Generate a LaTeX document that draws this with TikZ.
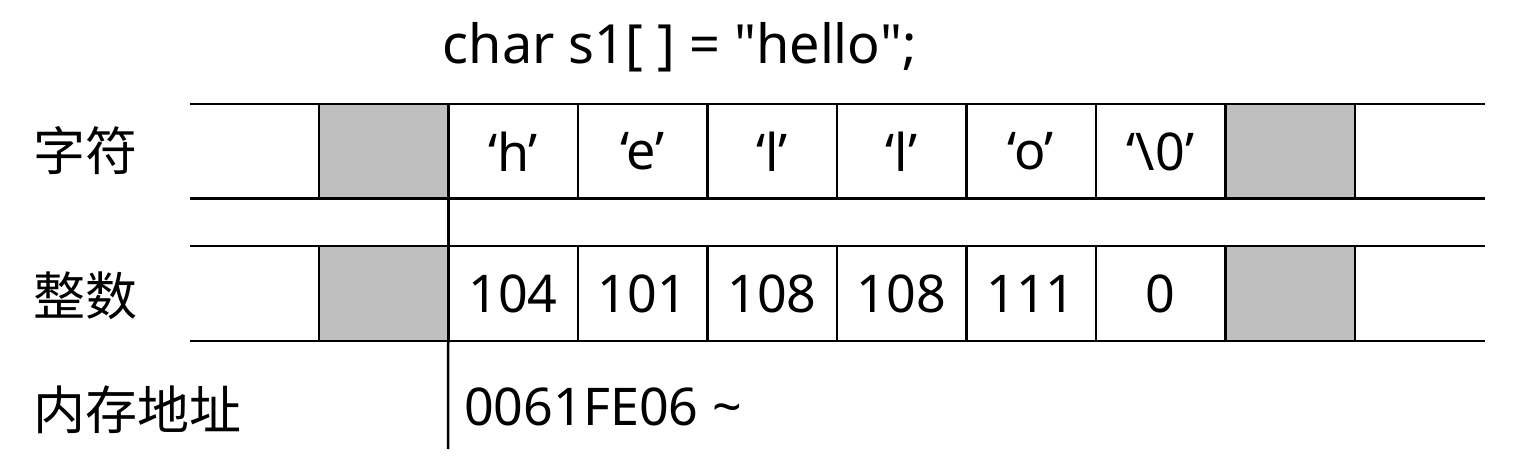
\documentclass[tikz,border=0pt]{standalone}
\usepackage{fontspec}
\setmainfont{Noto Sans}
\newfontfamily\cjk{Noto Sans CJK SC}
\usetikzlibrary{positioning}
\tikzset{cellbox/.style={
    draw=black, line width=2.5pt,
    minimum width=129.5pt, minimum height=95pt,
    inner sep=0pt, outer sep=0pt,
    font=\fontsize{52}{60}\selectfont},
  graybox/.style={cellbox, fill=gray!50},
  rowlabel/.style={anchor=west, inner sep=0pt,
    font=\fontsize{52}{60}\selectfont\cjk},
  rule/.style={draw=black, line width=2.5pt}}

\begin{document}
\begin{tikzpicture}[x=1pt,y=-1pt]
\useasboundingbox (0,0) rectangle (1519,470);

\node[font=\fontsize{54}{60}\selectfont] (title) at (680,47) {char s1[ ] = \textquotedbl hello\textquotedbl;};

% characters
\node[graybox] (ch0) at (383.5,151.5) {};
\node[cellbox, right=0pt of ch0] (ch1) {‘h’};
\node[cellbox, right=0pt of ch1] (ch2) {‘e’};
\node[cellbox, right=0pt of ch2] (ch3) {‘l’};
\node[cellbox, right=0pt of ch3] (ch4) {‘l’};
\node[cellbox, right=0pt of ch4] (ch5) {‘o’};
\node[cellbox, right=0pt of ch5] (ch6) {‘\textbackslash 0’};
\node[graybox, right=0pt of ch6] (ch7) {};

% integers
\node[graybox] (num0) at (383.5,293.5) {};
\node[cellbox, right=0pt of num0] (num1) {104};
\node[cellbox, right=0pt of num1] (num2) {101};
\node[cellbox, right=0pt of num2] (num3) {108};
\node[cellbox, right=0pt of num3] (num4) {108};
\node[cellbox, right=0pt of num4] (num5) {111};
\node[cellbox, right=0pt of num5] (num6) {0};
\node[graybox, right=0pt of num6] (num7) {};

\coordinate (aL) at (190,104);  \coordinate (aR) at (1485,104);
\coordinate (bL) at (190,198.5);\coordinate (bR) at (1485,198.5);
\coordinate (cL) at (190,246);  \coordinate (cR) at (1485,246);
\coordinate (dL) at (190,341);  \coordinate (dR) at (1485,341);
\coordinate (foot) at (448,449);

\path[rule] (aL) -- (aR);
\path[rule] (bL) -- (bR);
\path[rule] (cL) -- (cR);
\path[rule] (dL) -- (dR);
\path[rule] (ch0.south east) -- (num0.north east);
\path[rule] (num0.south east) -- (foot);

\node[rowlabel] (lblch) at (33,151) {字符};
\node[rowlabel] (lblnum) at (33,296) {整数};
\node[rowlabel] (lbladdr) at (33,410) {内存地址};
\node[anchor=west, inner sep=0pt, font=\fontsize{52}{60}\selectfont] (addr) at (464,407) {0061FE06 \textasciitilde};

\end{tikzpicture}
\end{document}
